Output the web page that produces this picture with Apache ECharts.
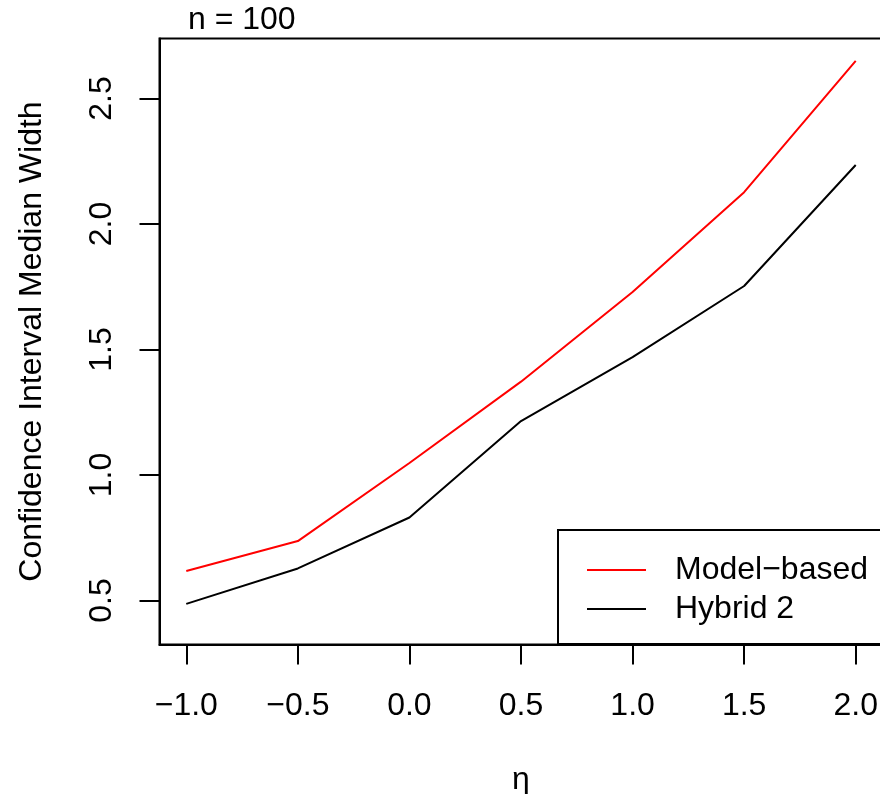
<!DOCTYPE html>
<html>
<head>
<meta charset="utf-8">
<script src="https://cdn.jsdelivr.net/npm/echarts@6/dist/echarts.min.js"></script>
<style>
  html, body { margin: 0; padding: 0; background: #fff; }
  #main { width: 880px; height: 794px; }
</style>
</head>
<body>
<div id="main"></div>
<script>
var chart = echarts.init(document.getElementById('main'));

var eta = [-1.0, -0.5, 0.0, 0.5, 1.0, 1.5, 2.0];
var modelBased = [0.618, 0.737, 1.048, 1.372, 1.729, 2.127, 2.650];
var hybrid2 = [0.487, 0.628, 0.831, 1.215, 1.470, 1.753, 2.235];
var xTicks = [-1.0, -0.5, 0.0, 0.5, 1.0, 1.5, 2.0];
var yTicks = [0.5, 1.0, 1.5, 2.0, 2.5];

var font = "'Liberation Sans', Arial, Helvetica, sans-serif";

var pairs = function (xs, ys) {
    var res = [];
    for (var i = 0; i < xs.length; i++) {
        res.push([xs[i], ys[i]]);
    }
    return res;
};

// R style minus sign
var fmt = function (v) {
    return v.toFixed(1).replace('-', '\u2212');
};

var option = {
    animation: false,
    backgroundColor: '#fff',
    textStyle: { fontFamily: font },
    title: {
        text: 'n = 100',
        left: 188,
        top: 4,
        padding: 0,
        textStyle: {
            fontFamily: font,
            fontSize: 32,
            fontWeight: 'normal',
            color: '#000'
        }
    },
    grid: {
        left: 159.5,
        top: 38.5,
        width: 723,
        height: 606,
        outerBoundsMode: 'none',
        containLabel: false,
        show: true,
        borderColor: '#000',
        borderWidth: 2,
        backgroundColor: 'transparent'
    },
    legend: {
        orient: 'vertical',
        left: 558,
        top: 530,
        padding: [24, 40, 19, 29],
        itemGap: 7,
        itemWidth: 59,
        itemHeight: 2,
        icon: 'rect',
        borderColor: '#000',
        borderWidth: 2,
        backgroundColor: '#fff',
        data: ['Model\u2212based', 'Hybrid 2'],
        textStyle: {
            fontFamily: font,
            fontSize: 32,
            lineHeight: 32,
            color: '#000',
            padding: [0, 0, 0, 24]
        }
    },
    xAxis: {
        type: 'value',
        min: -1.12,
        max: 2.12,
        name: '\u03b7',
        nameLocation: 'middle',
        nameGap: 120,
        nameTextStyle: { fontFamily: font, fontSize: 32, color: '#000' },
        axisLine: { show: true, onZero: false, lineStyle: { color: '#000', width: 2 } },
        axisTick: {
            show: true,
            inside: false,
            length: 20,
            customValues: xTicks,
            lineStyle: { color: '#000', width: 2 }
        },
        axisLabel: {
            customValues: xTicks,
            formatter: fmt,
            margin: 46,
            fontFamily: font,
            fontSize: 32,
            color: '#000'
        },
        splitLine: { show: false }
    },
    yAxis: {
        type: 'value',
        min: 0.325,
        max: 2.739,
        name: 'Confidence Interval Median Width',
        nameLocation: 'middle',
        nameGap: 111,
        nameRotate: 90,
        nameTextStyle: { fontFamily: font, fontSize: 32, color: '#000' },
        axisLine: { show: true, onZero: false, lineStyle: { color: '#000', width: 2 } },
        axisTick: {
            show: true,
            inside: false,
            length: 20,
            customValues: yTicks,
            lineStyle: { color: '#000', width: 2 }
        },
        axisLabel: {
            customValues: yTicks,
            formatter: fmt,
            rotate: 90,
            margin: 41,
            fontFamily: font,
            fontSize: 32,
            color: '#000'
        },
        splitLine: { show: false }
    },
    series: [
        {
            name: 'Model\u2212based',
            type: 'line',
            showSymbol: false,
            symbol: 'none',
            color: '#ff0000',
            lineStyle: { color: '#ff0000', width: 2 },
            data: pairs(eta, modelBased)
        },
        {
            name: 'Hybrid 2',
            type: 'line',
            showSymbol: false,
            symbol: 'none',
            color: '#000000',
            lineStyle: { color: '#000000', width: 2 },
            data: pairs(eta, hybrid2)
        }
    ]
};
chart.setOption(option);
</script>
</body>
</html>
